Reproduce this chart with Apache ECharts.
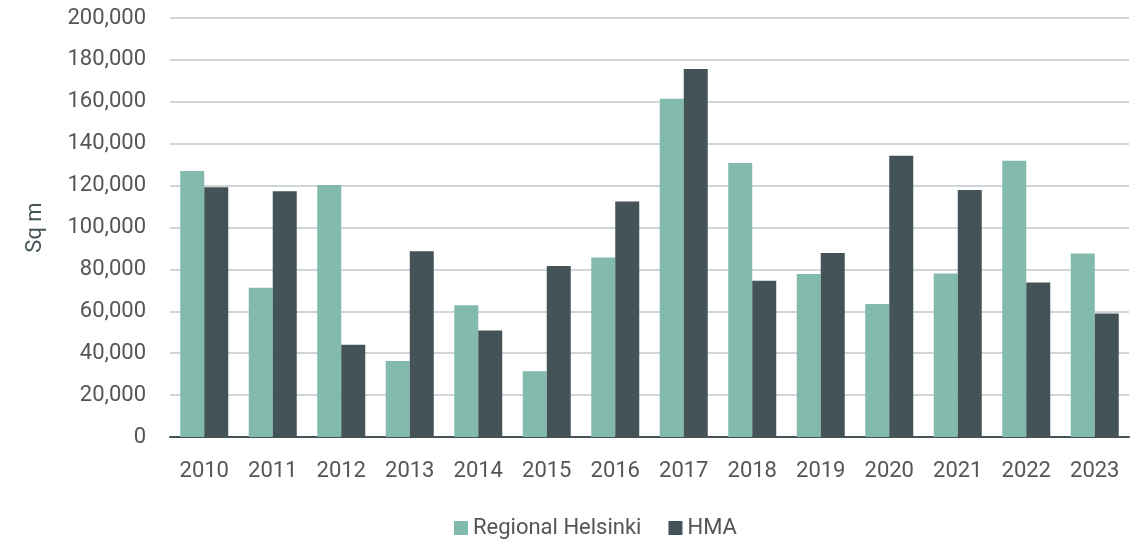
<!DOCTYPE html>
<html>
<head>
<meta charset="utf-8">
<script src="https://cdn.jsdelivr.net/npm/echarts@6/dist/echarts.min.js"></script>
<style>
  html, body { margin: 0; padding: 0; background: #fff; }
  #chart { width: 1141px; height: 540px; }
</style>
</head>
<body>
<div id="chart"></div>
<script>
// values, sq m
let years = ['2010', '2011', '2012', '2013', '2014', '2015', '2016',
             '2017', '2018', '2019', '2020', '2021', '2022', '2023'];
let regionalHelsinki = [127000, 71200, 120300, 36300, 62900, 31400, 85700,
                        161400, 130800, 77800, 63500, 78100, 131900, 87600];
let hma = [119200, 117300, 44000, 88700, 50800, 81600, 112400,
           175700, 74600, 87800, 134300, 117900, 73800, 58900];

let chart = echarts.init(document.getElementById('chart'));

chart.setOption({
    animation: false,
    textStyle: { fontFamily: 'Roboto' },
    grid: { left: 170, right: 12, top: 18, bottom: 103, containLabel: false },
    legend: {
        data: ['Regional Helsinki', 'HMA'],
        left: 449,
        top: 512,
        itemWidth: 14,
        itemHeight: 14,
        itemGap: 27,
        icon: 'rect',
        textStyle: { color: '#555', fontSize: 22 }
    },
    xAxis: {
        type: 'category',
        data: years,
        axisLine: { lineStyle: { color: '#435357', width: 2 } },
        axisTick: { show: false },
        axisLabel: { color: '#555', fontSize: 22, margin: 23 }
    },
    yAxis: {
        type: 'value',
        min: 0,
        max: 200000,
        interval: 20000,
        name: 'Sq m',
        nameLocation: 'middle',
        nameGap: 112,
        nameTextStyle: { color: '#435357', fontSize: 22, padding: [0, 0, 12, 0] },
        axisLine: { show: false },
        axisTick: { show: false },
        splitLine: { lineStyle: { color: '#d0d6d7', width: 2 } },
        axisLabel: {
            color: '#555',
            fontSize: 22,
            margin: 24,
            formatter: function (v) { return v.toLocaleString('en-US'); }
        }
    },
    series: [{
        name: 'Regional Helsinki',
        type: 'bar',
        data: regionalHelsinki,
        barWidth: 24,
        barGap: '0%',
        itemStyle: { color: '#82bbad' }
    }, {
        name: 'HMA',
        type: 'bar',
        data: hma,
        barWidth: 24,
        itemStyle: { color: '#435357' }
    }]
});
</script>
</body>
</html>
